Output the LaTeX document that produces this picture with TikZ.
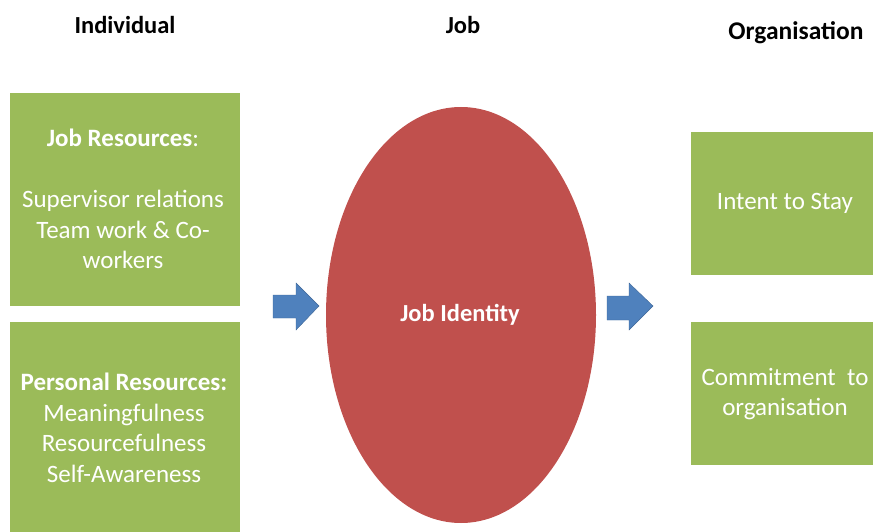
\documentclass[tikz,border=0pt]{standalone}
\usepackage{fontspec}
\setmainfont{Carlito}
\definecolor{boxgreen}{HTML}{9BBB59}
\definecolor{ellred}{HTML}{C0504D}
\definecolor{arrblue}{HTML}{4F81BD}
\begin{document}
\begin{tikzpicture}[x=1pt,y=-1pt,
  header/.style={font=\bfseries\fontsize{24.5}{28}\selectfont, text=black},
  boxtext/.style={text=white, align=center, font=\fontsize{25}{30.5}\selectfont},
  greenbox/.style={fill=boxgreen, draw=none},
  blockarrow/.style={fill=arrblue, draw=arrblue!80!black, line width=0.4pt}]
\useasboundingbox (0,0) rectangle (873,532);
% headers
\node[header] (hInd) at (125,25) {Individual};
\node[header] (hJob) at (463,25) {Job};
\node[header, font=\bfseries\fontsize{25.5}{28}\selectfont] (hOrg) at (796,33) {Organisation};
% left boxes
\fill[greenbox] (10,93) rectangle (240,306);
\node[boxtext] (jobres) at (123,199) {\textbf{Job Resources}:\\[30.5pt]Supervisor relations\\Team work \& Co-\\workers};
\fill[greenbox] (10,322) rectangle (240,532);
\node[boxtext] (persres) at (124,428) {\textbf{Personal Resources:}\\Meaningfulness\\Resourcefulness\\Self-Awareness};
% ellipse
\fill[ellred] (461,315) ellipse [x radius=135, y radius=208];
\node[text=white, font=\bfseries\fontsize{24.5}{28}\selectfont] (jobid) at (460,315) {Job Identity};
% arrows
\filldraw[blockarrow] (273,295) -- (296,295) -- (296,283) -- (319,306) -- (296,330) -- (296,318) -- (273,318) -- cycle;
\filldraw[blockarrow] (607,296) -- (629,296) -- (629,283) -- (653,306) -- (629,330) -- (629,320) -- (607,320) -- cycle;
% right boxes
\fill[greenbox] (691,132) rectangle (873,275);
\node[boxtext] (intent) at (785,203) {Intent to Stay};
\fill[greenbox] (691,322) rectangle (873,465);
\node[boxtext] (commit) at (785,394) {Commitment~ to\\organisation};
\end{tikzpicture}
\end{document}
